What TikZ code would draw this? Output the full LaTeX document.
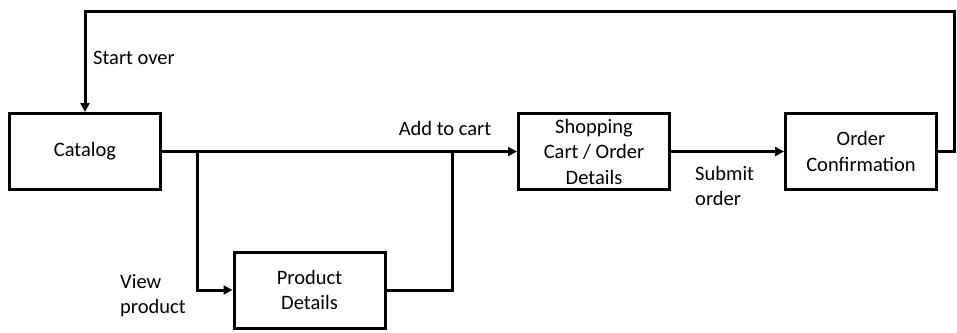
\documentclass[tikz,border=0pt]{standalone}
\usepackage{fontspec}
\setmainfont{Carlito}
\usetikzlibrary{arrows.meta}
\begin{document}
\begin{tikzpicture}[x=1pt,y=-1pt,
  every node/.style={font=\fontsize{20.5}{25.5}\selectfont},
  box/.style={draw, line width=3pt, minimum width=151pt, minimum height=76pt, align=center, inner sep=0pt},
  lbl/.style={inner sep=0pt, align=left},
  conn/.style={line width=3pt},
  arr/.style={conn, -{Triangle[length=9pt,width=9pt]}}]
\useasboundingbox (0,0) rectangle (957,332);
\node[box] (cat) at (85,151.5) {Catalog};
\node[box] (cart) at (594,151.5) {Shopping\\Cart / Order\\Details};
\node[box] (conf) at (861,151.5) {Order\\Confirmation};
\node[box] (prod) at (309.5,290) {Product\\Details};
\coordinate (b1) at (197,151.5);
\coordinate (b2) at (452,151.5);
\coordinate (r1) at (954.5,151.5);
\coordinate (r2) at (954.5,11);
\coordinate (t1) at (85,11);
\draw[arr] (cat.east) -- (cart.west);
\draw[arr] (b1) |- (prod.west);
\draw[conn] (prod.east) -| (b2);
\draw[arr] (cart.east) -- (conf.west);
\draw[conn, line cap=rect] (conf.east) -- (r1);
\draw[conn, line cap=rect] (r1) -- (r2);
\draw[conn, line cap=rect] (r2) -- (t1);
\draw[arr] (t1) -- (cat.north);
\node[lbl, anchor=west] (so) at (93,58) {Start over};
\node[lbl] (ac) at (445,128) {Add to cart};
\node[lbl, anchor=west] (sub) at (695,186) {Submit\\order};
\node[lbl, anchor=west] (vp) at (120,295.5) {View\\product};
\end{tikzpicture}
\end{document}
